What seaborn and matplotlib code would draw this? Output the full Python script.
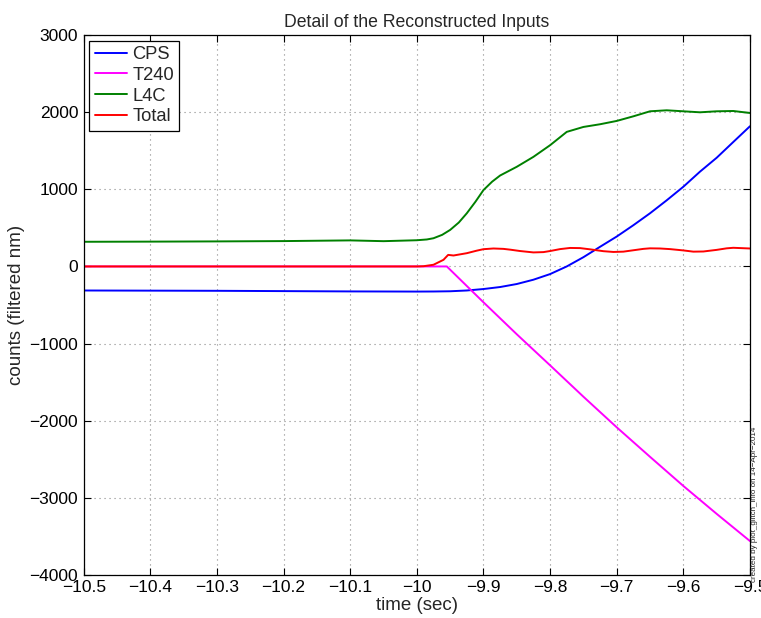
import numpy as np
import pandas as pd
import matplotlib
matplotlib.use("Agg")
import matplotlib.pyplot as plt
import seaborn as sns

# ---- data ----
cps_t = [-10.5, -10.4, -10.3, -10.2, -10.1, -10.0, -9.975, -9.95, -9.925, -9.9, -9.875, -9.85,
         -9.825, -9.8, -9.775, -9.75, -9.725, -9.7, -9.675, -9.65, -9.625, -9.6, -9.575,
         -9.55, -9.525, -9.5]
cps_v = [-312, -314, -316, -320, -324, -326, -325, -322, -312, -293, -267, -228,
         -172, -99, 0, 120, 255, 388, 535, 690, 858, 1034, 1230,
         1410, 1615, 1819]

t240_t = [-10.5, -10.0, -9.955, -9.9, -9.85, -9.8, -9.75, -9.7, -9.65, -9.6, -9.55, -9.5]
t240_v = [0, 0, 0, -465, -880, -1283, -1690, -2087, -2470, -2848, -3210, -3563]

l4c_t = [-10.5, -10.4, -10.3, -10.2, -10.1, -10.05, -10.0, -9.985, -9.975, -9.962, -9.95,
         -9.937, -9.925, -9.912, -9.9, -9.887, -9.875, -9.85, -9.825, -9.8, -9.775, -9.75,
         -9.725, -9.7, -9.675, -9.65, -9.625, -9.6, -9.575, -9.55, -9.525, -9.5]
l4c_v = [320, 322, 325, 329, 338, 328, 340, 350, 366, 410, 474,
         570, 690, 840, 991, 1100, 1180, 1293, 1422, 1573, 1746, 1810,
         1845, 1888, 1948, 2013, 2026, 2013, 2000, 2013, 2017, 1991]

total_t = [-10.5, -10.2, -10.0, -9.99, -9.975, -9.96, -9.953, -9.945, -9.925, -9.91, -9.9,
           -9.885, -9.87, -9.86, -9.845, -9.825, -9.81, -9.8, -9.785, -9.77, -9.755, -9.74,
           -9.72, -9.705, -9.69, -9.675, -9.66, -9.65, -9.635, -9.62, -9.6, -9.585, -9.57,
           -9.55, -9.535, -9.525, -9.5]
total_v = [0, 0, 0, 3, 22, 86, 150, 142, 172, 205, 224,
           233, 228, 218, 200, 182, 186, 200, 225, 240, 238, 222,
           198, 188, 192, 210, 228, 235, 233, 225, 208, 192, 194,
           215, 235, 242, 233]

series_names = ["CPS", "T240", "L4C", "Total"]
series_colors = ["#0000ff", "#ff00ff", "#008000", "#ff0000"]

frames = []
for name, tt, vv in zip(series_names, [cps_t, t240_t, l4c_t, total_t],
                        [cps_v, t240_v, l4c_v, total_v]):
    frames.append(pd.DataFrame({"time": tt, "counts": vv, "series": name}))
df = pd.concat(frames, ignore_index=True)

x_ticks = [-10.5, -10.4, -10.3, -10.2, -10.1, -10.0, -9.9, -9.8, -9.7, -9.6, -9.5]
x_tick_labels = ["\u221210.5", "\u221210.4", "\u221210.3", "\u221210.2", "\u221210.1", "\u221210",
                 "\u22129.9", "\u22129.8", "\u22129.7", "\u22129.6", "\u22129.5"]
y_ticks = [-4000, -3000, -2000, -1000, 0, 1000, 2000, 3000]
y_tick_labels = ["\u22124000", "\u22123000", "\u22122000", "\u22121000", "0", "1000", "2000", "3000"]

# ---- plotting ----
sns.set_style("white")
plt.rcParams["font.family"] = ["Liberation Sans", "DejaVu Sans"]

fig = plt.figure(figsize=(7.61, 6.18), dpi=100)
ax = fig.add_axes([0.110, 0.070, 0.8755, 0.873])

sns.lineplot(data=df, x="time", y="counts", hue="series", hue_order=series_names,
             palette=series_colors, sort=False, estimator=None, linewidth=1.4, ax=ax)

ax.set_xlim(-10.5, -9.5)
ax.set_ylim(-4000, 3000)
ax.set_xticks(x_ticks)
ax.set_xticklabels(x_tick_labels)
ax.set_yticks(y_ticks)
ax.set_yticklabels(y_tick_labels)
ax.tick_params(axis="both", direction="in", length=5, width=0.8, labelsize=12.5,
               top=True, right=True, bottom=True, left=True, colors="black", pad=4)
for sp in ax.spines.values():
    sp.set_visible(True)
    sp.set_color("black")
    sp.set_linewidth(0.9)

ax.grid(True, color="#888888", linestyle=(0, (1, 3.5)), linewidth=0.8)
ax.set_axisbelow(True)

ax.set_xlabel("time (sec)", fontsize=13.5, labelpad=1)
ax.set_ylabel("counts (filtered nm)", fontsize=13.5, labelpad=3)
ax.set_title("Detail of the Reconstructed Inputs", fontsize=12.7, pad=6)

leg = ax.legend(loc="upper left", fontsize=13.2, frameon=True, fancybox=False,
                borderaxespad=0.3, handlelength=1.75, handletextpad=0.3,
                borderpad=0.3, labelspacing=0.2)
leg.get_frame().set_edgecolor("black")
leg.get_frame().set_linewidth(0.9)
leg.get_frame().set_alpha(1.0)

fig.text(0.992, 0.058, "created by plot_glitch_info on 14\u2212Apr\u22122014", rotation=90,
         fontsize=5.8, ha="center", va="bottom")

fig.savefig("out.png", dpi=100, facecolor="white")
